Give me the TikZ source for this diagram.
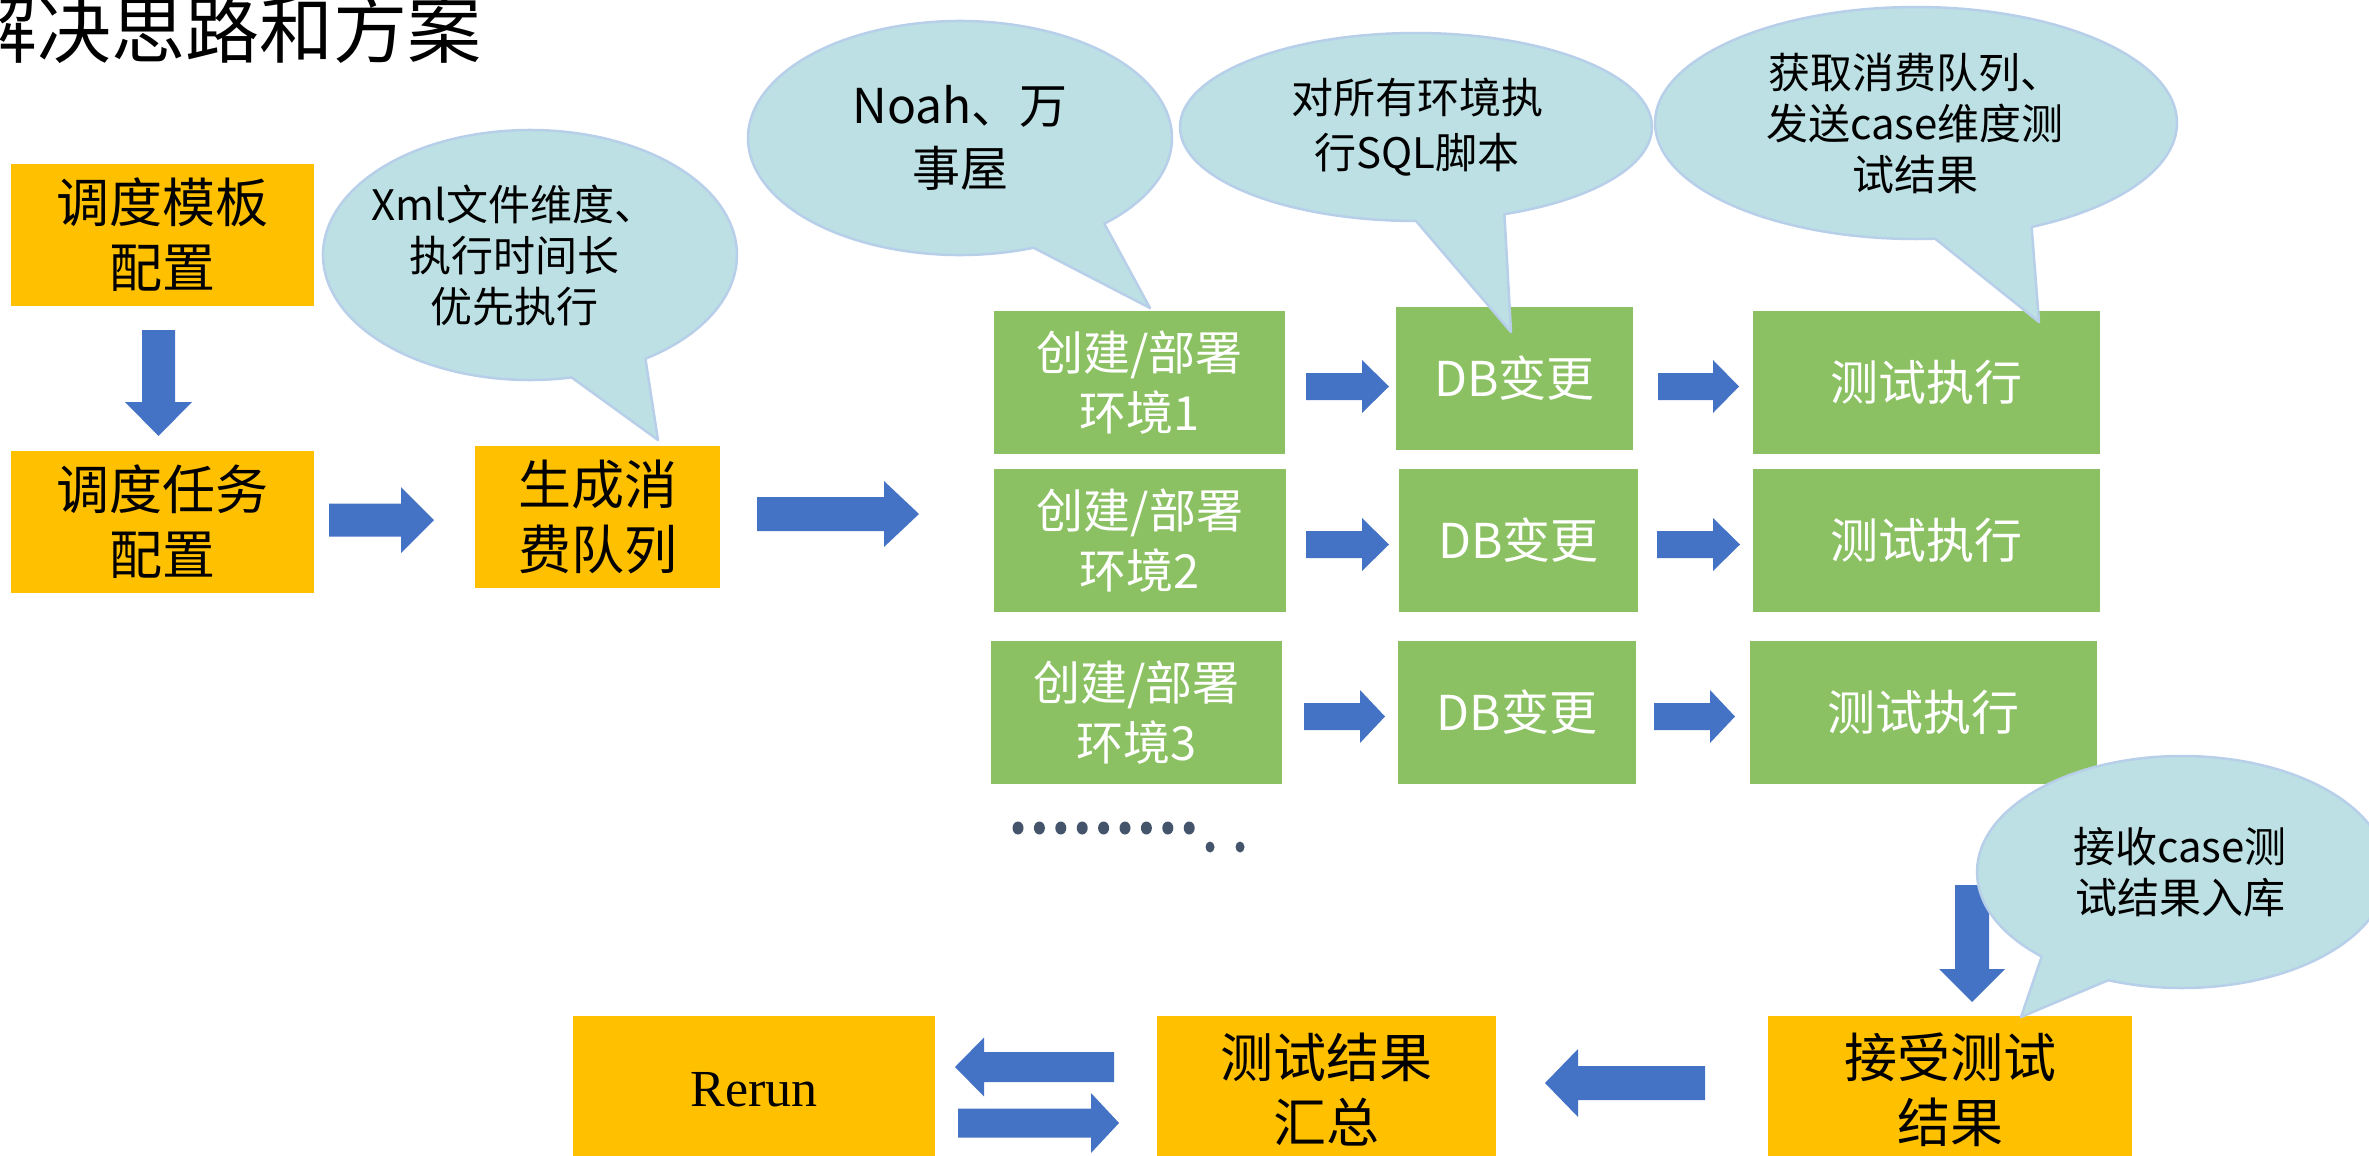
\documentclass[tikz,border=0pt]{standalone}
\usepackage{fontspec}
\setmainfont{Noto Sans CJK SC}
\newfontfamily\rerunfont{Liberation Serif}
\usetikzlibrary{calc}

\definecolor{boxorange}{HTML}{FFC000}
\definecolor{boxgreen}{HTML}{8BC162}
\definecolor{arrowblue}{HTML}{4472C4}
\definecolor{bubblefill}{HTML}{BCE0E3}
\definecolor{bubbleline}{HTML}{B8CFEA}
\definecolor{dotgray}{HTML}{44546A}

% horizontal block arrow: tail x, head-base x, tip x, centre y, shaft half, head half
\newcommand{\hblock}[6]{\fill[arrowblue] (#1,{#4-#5}) -- (#2,{#4-#5}) -- (#2,{#4-#6}) -- (#3,#4) -- (#2,{#4+#6}) -- (#2,{#4+#5}) -- (#1,{#4+#5}) -- cycle;}
% vertical block arrow: tail y, head-base y, tip y, centre x, shaft half, head half
\newcommand{\vblock}[6]{\fill[arrowblue] ({#4-#5},#1) -- ({#4-#5},#2) -- ({#4-#6},#2) -- (#4,#3) -- ({#4+#6},#2) -- ({#4+#5},#2) -- ({#4+#5},#1) -- cycle;}
% speech bubble: cx, cy, rx, ry, start angle, end angle, tip coordinate name
\newcommand{\speech}[7]{\filldraw[bubble] ($(#1,#2)+(#5:#3 and #4)$) arc[start angle=#5, end angle=#6, x radius=#3, y radius=#4] -- (#7) -- cycle;}

\begin{document}
\begin{tikzpicture}[x=1pt,y=-1pt,
  obox/.style={fill=boxorange, inner sep=0pt, align=center, text=black, font=\fontsize{53}{65}\selectfont},
  gbox/.style={fill=boxgreen, inner sep=0pt, align=center, text=white, font=\fontsize{47}{60}\selectfont},
  bubble/.style={fill=bubblefill, draw=bubbleline, line width=2.5pt, line join=round},
  btext/.style={align=center, text=black, inner sep=0pt, font=\fontsize{42}{51}\selectfont},
]
\useasboundingbox (0,0) rectangle (2369,1156);
\clip (0,0) rectangle (2369,1156);

% title
\node[anchor=base west, inner sep=0pt, font=\fontsize{74}{80}\selectfont] (title) at (-37,58) {解决思路和方案};

% orange boxes
\node[obox, minimum width=303, minimum height=142] (tmpl) at (162.5,235) {调度模板\\配置};
\node[obox, minimum width=303, minimum height=142] (task) at (162.5,522) {调度任务\\配置};
\node[obox, minimum width=245, minimum height=142] (queue) at (597.5,517) {生成消\\费队列};

% green boxes
\node[gbox, minimum width=291, minimum height=143] (env1) at (1139.5,382.5) {创建/部署\\环境1};
\node[gbox, minimum width=237, minimum height=143, font=\fontsize{48}{60}\selectfont] (db1) at (1514.5,378.5) {DB变更};
\node[gbox, minimum width=347, minimum height=143, font=\fontsize{48}{60}\selectfont] (run1) at (1926.5,382.5) {测试执行};

\node[gbox, minimum width=292, minimum height=143] (env2) at (1140,540.5) {创建/部署\\环境2};
\node[gbox, minimum width=239, minimum height=143, font=\fontsize{48}{60}\selectfont] (db2) at (1518.5,540.5) {DB变更};
\node[gbox, minimum width=347, minimum height=143, font=\fontsize{48}{60}\selectfont] (run2) at (1926.5,540.5) {测试执行};

\node[gbox, minimum width=291, minimum height=143] (env3) at (1136.5,712.5) {创建/部署\\环境3};
\node[gbox, minimum width=238, minimum height=143, font=\fontsize{48}{60}\selectfont] (db3) at (1517,712.5) {DB变更};
\node[gbox, minimum width=347, minimum height=143, font=\fontsize{48}{60}\selectfont] (run3) at (1923.5,712.5) {测试执行};

% bottom boxes
\node[obox, minimum width=364, minimum height=148] (recv) at (1950,1090) {接受测试\\结果};
\node[obox, minimum width=339, minimum height=148] (summ) at (1326.5,1090) {测试结果\\汇总};
\node[obox, minimum width=362, minimum height=148, font=\rerunfont\fontsize{52}{60}\selectfont] (rerun) at (754,1090) {Rerun};

% ellipsis dots
\foreach \i in {0,...,8} \fill[dotgray] ({1018+21.4*\i},828) ellipse[x radius=5.5, y radius=6.5];
\fill[dotgray] (1210,847) ellipse[x radius=4.5, y radius=5.5];
\fill[dotgray] (1240,847) ellipse[x radius=4.5, y radius=5.5];

% block arrows
\vblock{330}{402}{436}{158.5}{16.5}{33.5}
\hblock{329}{401}{434}{520}{16.5}{33}
\hblock{757}{884}{919}{514}{17}{33}
\hblock{1306}{1362}{1389}{386.5}{13.5}{26.5}
\hblock{1658}{1713}{1739}{386.5}{13.5}{26.5}
\hblock{1306}{1362}{1389}{544.5}{13.5}{26.5}
\hblock{1657}{1713}{1740}{544.5}{13.5}{26.5}
\hblock{1304}{1360}{1385}{716.5}{13.5}{26.5}
\hblock{1654}{1710}{1735}{716.5}{13.5}{26.5}
\vblock{885}{969}{1002}{1972}{17}{33}
\hblock{1705}{1578}{1545}{1083}{17}{34}
\hblock{1114}{984}{955}{1067}{15}{29.5}
\hblock{958}{1091}{1119}{1123}{14.5}{30}

% speech bubbles
\coordinate (tip1) at (658,440);
\coordinate (tip2) at (1150,308);
\coordinate (tip3) at (1511,332);
\coordinate (tip4) at (2039,322);
\coordinate (tip5) at (2021,1017);
\speech{530}{255}{207}{125}{78.4}{416.1}{tip1}
\speech{960}{138}{212}{117}{69.7}{407.1}{tip2}
\speech{1416}{127}{236}{94}{90}{428}{tip3}
\speech{1916}{123}{261}{116}{85.8}{423.7}{tip4}
\speech{2182}{872}{205}{116}{133.2}{471.1}{tip5}

\node[btext] (b1) at (514,255) {Xml文件维度、\\执行时间长\\优先执行};
\node[btext, font=\fontsize{48}{63}\selectfont] (b2) at (960,138) {Noah、万\\事屋};
\node[btext, font=\fontsize{42}{55}\selectfont] (b3) at (1417,127.5) {对所有环境执\\行SQL脚本};
\node[btext] (b4) at (1915,124) {获取消费队列、\\发送case维度测\\试结果};
\node[btext] (b5) at (2180,872) {接收case测\\试结果入库};
\end{tikzpicture}
\end{document}
